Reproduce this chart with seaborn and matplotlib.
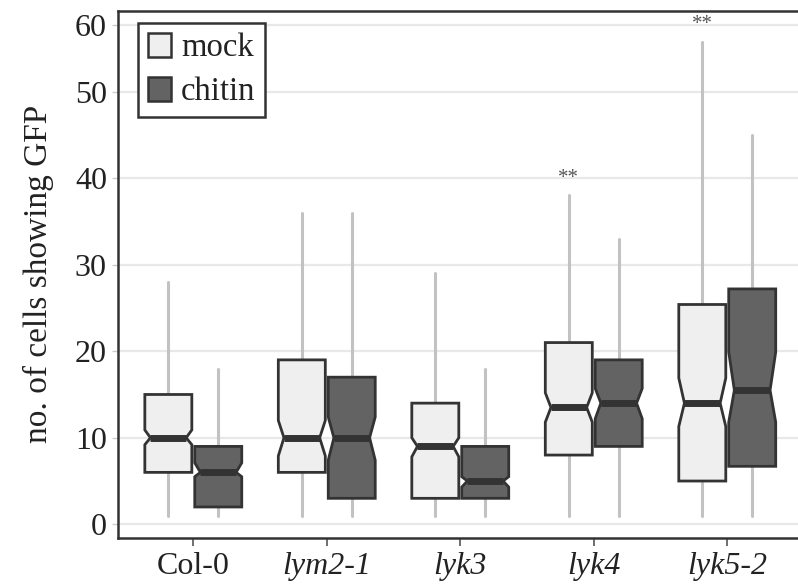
import numpy as np
import matplotlib
matplotlib.use("Agg")
import matplotlib.pyplot as plt
from matplotlib.patches import Patch
import seaborn as sns

# ---- data ----
genotypes = ["Col-0", "lym2-1", "lyk3", "lyk4", "lyk5-2"]
treatments = ["mock", "chitin"]

mock_whislo = [1, 1, 1, 1, 1]
mock_q1 = [6, 6, 3, 8, 5]
mock_med = [10, 10, 9, 13.5, 14]
mock_q3 = [15, 19, 14, 21, 25.4]
mock_whishi = [28, 36, 29, 38, 57.5]
mock_cilo = [9.2, 7.9, 7.8, 11.8, 11.3]
mock_cihi = [10.9, 12.0, 10.0, 15.2, 16.9]

chitin_whislo = [1, 1, 1, 1, 1]
chitin_q1 = [2, 3, 3, 9, 6.7]
chitin_med = [6, 10, 5, 14, 15.5]
chitin_q3 = [9, 17, 9, 19, 27.2]
chitin_whishi = [18, 36, 18, 33, 45]
chitin_cilo = [5.5, 7.4, 4.3, 12.2, 11.8]
chitin_cihi = [7.1, 12.4, 5.5, 15.7, 19.9]

sig_groups = ["lyk4", "lyk5-2"]
sig_labels = ["**", "**"]
sig_values = [40, 60]

y_ticks = [0, 10, 20, 30, 40, 50, 60]

# ---- style ----
sns.set_theme(style="whitegrid")
plt.rcParams["font.family"] = ["Liberation Serif", "DejaVu Serif"]

MOCK_FILL = "#efefef"
CHITIN_FILL = "#636363"
EDGE = "#333333"
WHISK = "#c2c2c2"
GRID = "#e8e8e8"

K = 0.77  # compression of the axis above 50, as in the reference


def fwd(v):
    v = np.asarray(v, dtype=float)
    return np.where(v <= 50, v, 50 + (v - 50) * K)


def inv(t):
    t = np.asarray(t, dtype=float)
    return np.where(t <= 50, t, 50 + (t - 50) / K)


fig = plt.figure(figsize=(7.98, 5.87), dpi=100)
ax = fig.add_axes([118 / 798, (587 - 537.7) / 587, 680 / 798, (537.7 - 11) / 587])
ax.set_yscale("function", functions=(fwd, inv))

series = {
    "mock": dict(whislo=mock_whislo, q1=mock_q1, med=mock_med, q3=mock_q3,
                 whishi=mock_whishi, cilo=mock_cilo, cihi=mock_cihi, fill=MOCK_FILL),
    "chitin": dict(whislo=chitin_whislo, q1=chitin_q1, med=chitin_med, q3=chitin_q3,
                   whishi=chitin_whishi, cilo=chitin_cilo, cihi=chitin_cihi, fill=CHITIN_FILL),
}

offset = 0.187
width = 0.352
notch_frac = 0.76

for j, tr in enumerate(treatments):
    s = series[tr]
    stats = []
    for i, g in enumerate(genotypes):
        stats.append(dict(label=g, whislo=s["whislo"][i], q1=s["q1"][i], med=s["med"][i],
                          q3=s["q3"][i], whishi=s["whishi"][i], cilo=s["cilo"][i],
                          cihi=s["cihi"][i], fliers=[]))
    pos = np.arange(len(genotypes)) + (offset if j == 1 else -offset)
    res = ax.bxp(stats, positions=pos, widths=width, shownotches=True,
                 showfliers=False, showcaps=False, patch_artist=True,
                 boxprops=dict(facecolor=s["fill"], edgecolor=EDGE, linewidth=2.0, zorder=3),
                 whiskerprops=dict(color=WHISK, linewidth=2.2, zorder=2),
                 medianprops=dict(color=EDGE, linewidth=5, solid_capstyle="butt", zorder=4),
                 manage_ticks=False)
    # narrower notches, like the reference
    for p, box, medl in zip(pos, res["boxes"], res["medians"]):
        verts = box.get_path().vertices
        verts[3, 0] = p + width * 0.5 * notch_frac
        verts[8, 0] = p - width * 0.5 * notch_frac
        medl.set_xdata([p - width * 0.5 * notch_frac, p + width * 0.5 * notch_frac])

# significance marks
for g, lab, v in zip(sig_groups, sig_labels, sig_values):
    i = genotypes.index(g)
    ax.text(i - offset, v, lab, ha="center", va="center", fontsize=15, color="#555555")

# axes
ax.set_xlim(-0.564, 4.53)
ax.set_ylim(-1.55, 62.1)
ax.set_yticks(y_ticks)
ax.set_yticklabels([str(t) for t in y_ticks])
ax.yaxis.set_minor_locator(matplotlib.ticker.NullLocator())
ax.set_xticks(np.arange(len(genotypes)))
ax.set_xticklabels(genotypes)
for lbl in ax.get_xticklabels()[1:]:
    lbl.set_style("italic")

ax.grid(axis="y", color=GRID, linewidth=1.6)
ax.grid(axis="x", visible=False)
ax.set_axisbelow(True)
ax.set_facecolor("white")

for side in ["left", "bottom", "top"]:
    ax.spines[side].set_visible(True)
    ax.spines[side].set_color(EDGE)
    ax.spines[side].set_linewidth(1.8)
ax.spines["right"].set_visible(False)

ax.tick_params(axis="y", labelsize=23, length=4, width=1, color="#cccccc", pad=4,
               labelcolor="#222222", left=True)
ax.tick_params(axis="x", labelsize=23, length=6, width=1.2, color="#555555", pad=4,
               labelcolor="#222222", bottom=True)

ax.set_ylabel("no. of cells showing GFP", fontsize=24, color="#222222", labelpad=15)
ax.set_xlabel("")

handles = [Patch(facecolor=MOCK_FILL, edgecolor=EDGE, linewidth=1.8, label="mock"),
           Patch(facecolor=CHITIN_FILL, edgecolor=EDGE, linewidth=1.8, label="chitin")]
leg = ax.legend(handles=handles, loc="upper left", bbox_to_anchor=(20 / 680, 1 - 12 / 526.7),
                borderaxespad=0, fontsize=23.5, handlelength=0.72, handleheight=0.72,
                handletextpad=0.3, labelspacing=0.42, borderpad=0.3,
                frameon=True, fancybox=False, framealpha=1)
leg.get_frame().set_edgecolor(EDGE)
leg.get_frame().set_linewidth(1.8)
for t in leg.get_texts():
    t.set_color("#222222")

fig.savefig("out.png", dpi=100, facecolor="white")
